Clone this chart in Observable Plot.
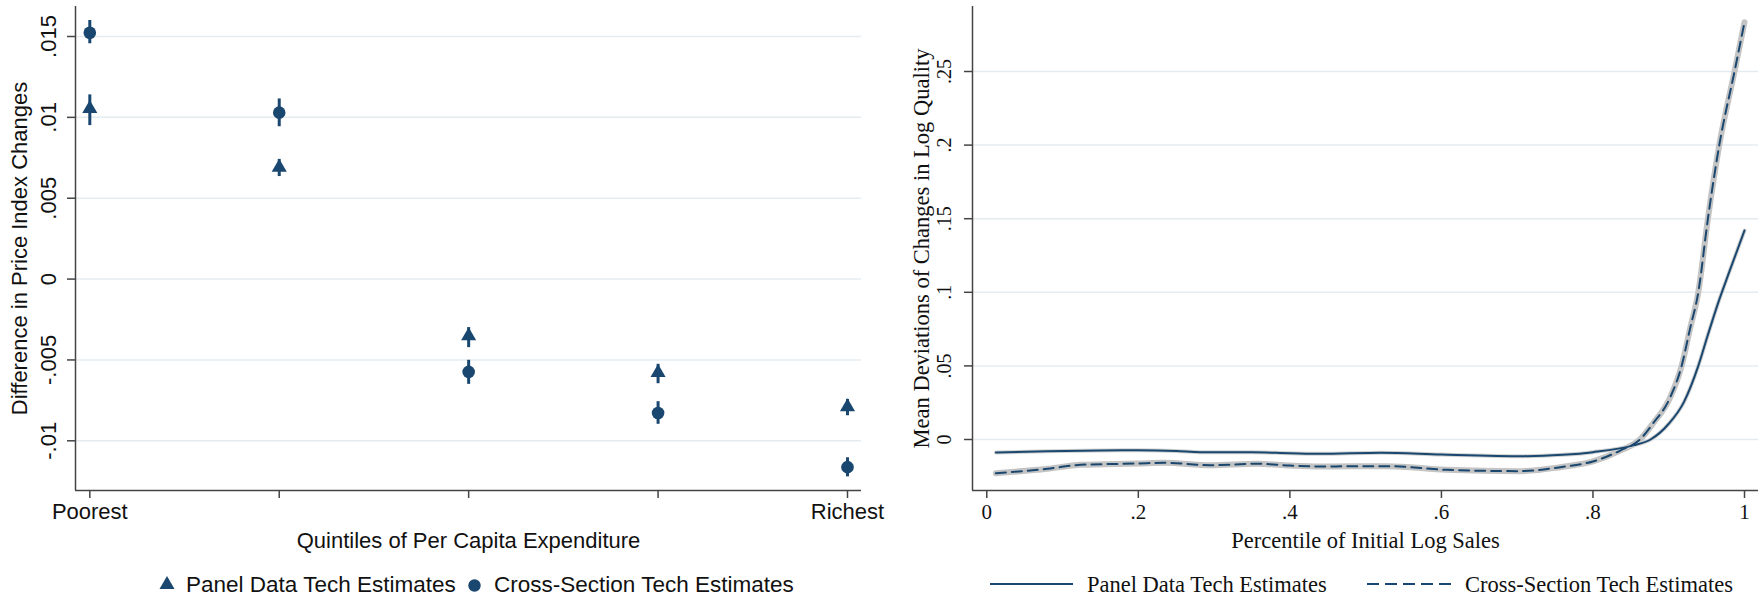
<!DOCTYPE html>
<html><head><meta charset="utf-8">
<script src="https://cdn.jsdelivr.net/npm/d3@7"></script>
<script src="https://cdn.jsdelivr.net/npm/@observablehq/plot@0.6"></script>
<style>
body{margin:0;background:#fff;width:1760px;height:600px;position:relative;overflow:hidden}
#left{position:absolute;left:0;top:0;z-index:2}
#right{position:absolute;left:880px;top:0;z-index:1}
.leg{position:absolute;top:572px;font-size:22.5px;line-height:26px;white-space:nowrap;color:#111}
.sans{font-family:"Liberation Sans",Arial,sans-serif}
.serif{font-family:"Liberation Serif","Times New Roman",serif}
.sw{position:absolute;overflow:visible}
</style></head><body>
<div id="left"></div><div id="right"></div>
<div id="legend">
  <svg class="sw" style="left:159px;top:576px" width="16" height="14"><polygon points="8,0 15.5,13 0.5,13" fill="#1a476f"/></svg>
  <div class="leg sans" style="left:186px">Panel Data Tech Estimates</div>
  <svg class="sw" style="left:468px;top:579px" width="13" height="13"><circle cx="6.5" cy="6.5" r="6.2" fill="#1a476f"/></svg>
  <div class="leg sans" style="left:494px">Cross-Section Tech Estimates</div>
  <svg class="sw" style="left:990px;top:580px" width="84" height="8"><line x1="0" y1="4" x2="83" y2="4" stroke="#1a476f" stroke-width="2"/></svg>
  <div class="leg serif" style="left:1087px">Panel Data Tech Estimates</div>
  <svg class="sw" style="left:1367px;top:580px" width="84" height="8"><line x1="0" y1="4" x2="84" y2="4" stroke="#1a476f" stroke-width="2" stroke-dasharray="12,6"/></svg>
  <div class="leg serif" style="left:1465px">Cross-Section Tech Estimates</div>
</div>
<script>
// ---- Left panel data ----
const quintiles = [1, 2, 3, 4, 5];
const quintileLabels = ["Poorest", "", "", "", "Richest"];
const panelEst = [0.01054, 0.0069, -0.00351, -0.00579, -0.00791];
const panelLo  = [0.00949, 0.00634, -0.00424, -0.00647, -0.00845];
const panelHi  = [0.01139, 0.0074, -0.0030, -0.00527, -0.00744];
const crossEst = [0.01523, 0.01029, -0.00574, -0.00828, -0.01163];
const crossLo  = [0.01455, 0.00942, -0.00651, -0.00898, -0.01223];
const crossHi  = [0.01599, 0.01114, -0.00502, -0.00758, -0.01105];
const leftYTicks = [-0.01, -0.005, 0, 0.005, 0.01, 0.015];
const leftYTickLabels = ["-.01", "-.005", "0", ".005", ".01", ".015"];

// ---- Right panel data ----
const pctPanel = [0.012, 0.08, 0.15, 0.2, 0.25, 0.282, 0.35, 0.4, 0.44, 0.52, 0.6, 0.713, 0.76, 0.8, 0.853, 0.876, 0.9, 0.92, 0.939, 0.951, 0.965, 0.98, 1.0];
const devPanel = [-0.0088, -0.0080, -0.0074, -0.0073, -0.0078, -0.0086, -0.0087, -0.0093, -0.0097, -0.0090, -0.0102, -0.0113, -0.0104, -0.0086, -0.0040, 0.0, 0.0107, 0.0254, 0.050, 0.070, 0.0925, 0.114, 0.142];
const pctCross = [0.012, 0.08, 0.124, 0.2, 0.234, 0.295, 0.357, 0.4, 0.44, 0.528, 0.607, 0.704, 0.757, 0.8, 0.836, 0.862, 0.879, 0.902, 0.917, 0.928, 0.939, 0.9517, 0.9667, 0.9868, 1.0];
const devCross = [-0.0229, -0.0199, -0.0172, -0.0163, -0.0158, -0.0175, -0.0165, -0.0177, -0.0183, -0.0181, -0.0206, -0.0215, -0.0188, -0.0149, -0.0075, 0.0, 0.0107, 0.0287, 0.05, 0.075, 0.10, 0.15, 0.20, 0.25, 0.2835];
const rightXTicks = [0, 0.2, 0.4, 0.6, 0.8, 1];
const rightXTickLabels = ["0", ".2", ".4", ".6", ".8", "1"];
const rightYTicks = [0, 0.05, 0.1, 0.15, 0.2, 0.25];
const rightYTickLabels = ["0", ".05", ".1", ".15", ".2", ".25"];

const navy = "#1a476f";
const axisColor = "#444";
const gridColor = "#e4ecf0";

const rowsPanel = quintiles.map((q, i) => ({q, est: panelEst[i], lo: panelLo[i], hi: panelHi[i]}));
const rowsCross = quintiles.map((q, i) => ({q, est: crossEst[i], lo: crossLo[i], hi: crossHi[i]}));
const leftX = [0.9245, 5.0739];
const leftY = [-0.013073, 0.016855];

const left = Plot.plot({
  width: 880, height: 560,
  marginTop: 6, marginLeft: 75, marginRight: 19, marginBottom: 70,
  style: {fontFamily: "'Liberation Sans', Arial, sans-serif", fontSize: "22px", color: "#111", background: "transparent", overflow: "visible"},
  x: {domain: leftX},
  y: {domain: leftY},
  marks: [
    Plot.gridY(leftYTicks, {stroke: gridColor, strokeOpacity: 1, strokeWidth: 1.5}),
    Plot.ruleX([leftX[0]], {stroke: axisColor, strokeWidth: 1.5}),
    Plot.ruleY([leftY[0]], {stroke: axisColor, strokeWidth: 1.5}),
    Plot.axisY(leftYTicks, {
      anchor: "left", tickSize: 8, tickPadding: 12, tickRotate: -90,
      stroke: axisColor, strokeWidth: 1.5, fontSize: 22,
      tickFormat: d => leftYTickLabels[leftYTicks.indexOf(d)],
      label: "Difference in Price Index Changes", labelAnchor: "center", labelOffset: 64, labelArrow: "none"
    }),
    Plot.axisX(quintiles, {
      anchor: "bottom", tickSize: 8, tickPadding: 5,
      stroke: axisColor, strokeWidth: 1.5, fontSize: 22,
      tickFormat: d => quintileLabels[quintiles.indexOf(d)],
      label: "Quintiles of Per Capita Expenditure", labelAnchor: "center", labelOffset: 57, labelArrow: "none"
    }),
    Plot.ruleX(rowsPanel, {x: "q", y1: "lo", y2: "hi", stroke: navy, strokeWidth: 3}),
    Plot.ruleX(rowsCross, {x: "q", y1: "lo", y2: "hi", stroke: navy, strokeWidth: 3}),
    Plot.dot(rowsPanel, {x: "q", y: "est", symbol: "triangle", r: 5.6, fill: navy, stroke: "none"}),
    Plot.dot(rowsCross, {x: "q", y: "est", symbol: "circle", r: 6.3, fill: navy, stroke: "none"})
  ]
});
document.getElementById("left").append(left);

const panelRows = pctPanel.map((p, i) => ({p, v: devPanel[i]}));
const crossRows = pctCross.map((p, i) => ({p, v: devCross[i]}));
const rightX = [-0.01886, 1.01846];
const rightY = [-0.03465, 0.29416];

const right = Plot.plot({
  width: 880, height: 560,
  marginTop: 6, marginLeft: 92, marginRight: 2, marginBottom: 70,
  style: {fontFamily: "'Liberation Serif', 'Times New Roman', serif", fontSize: "21px", color: "#111", background: "transparent", overflow: "visible"},
  x: {domain: rightX},
  y: {domain: rightY},
  marks: [
    Plot.gridY(rightYTicks, {stroke: gridColor, strokeOpacity: 1, strokeWidth: 1.5}),
    Plot.ruleX([rightX[0]], {stroke: axisColor, strokeWidth: 1.5}),
    Plot.ruleY([rightY[0]], {stroke: axisColor, strokeWidth: 1.5}),
    Plot.axisY(rightYTicks, {
      anchor: "left", tickSize: 8, tickPadding: 13.5, tickRotate: -90,
      stroke: axisColor, strokeWidth: 1.5, fontSize: 20,
      tickFormat: d => rightYTickLabels[rightYTicks.indexOf(d)],
      label: null
    }),
    Plot.axisY([], {anchor: "left", fontSize: 22.5, tickSize: 0,
      label: "Mean Deviations of Changes in Log Quality", labelAnchor: "center", labelOffset: 59, labelArrow: "none"}),
    Plot.axisX(rightXTicks, {
      anchor: "bottom", tickSize: 8, tickPadding: 6,
      stroke: axisColor, strokeWidth: 1.5, fontSize: 21,
      tickFormat: d => rightXTickLabels[rightXTicks.indexOf(d)],
      label: null
    }),
    Plot.axisX([], {anchor: "bottom", fontSize: 22.5, tickSize: 0,
      label: "Percentile of Initial Log Sales", labelAnchor: "center", labelOffset: 57, labelArrow: "none"}),
    Plot.line(crossRows, {x: "p", y: "v", stroke: "#c4c4c4", strokeWidth: 6, curve: "monotone-x"}),
    Plot.line(panelRows, {x: "p", y: "v", stroke: "#d2d2d2", strokeWidth: 4, curve: "monotone-x"}),
    Plot.line(panelRows, {x: "p", y: "v", stroke: navy, strokeWidth: 2, curve: "monotone-x"}),
    Plot.line(crossRows, {x: "p", y: "v", stroke: navy, strokeWidth: 2, strokeDasharray: "10,6", curve: "monotone-x"})
  ]
});
document.getElementById("right").append(right);
</script>
</body></html>
